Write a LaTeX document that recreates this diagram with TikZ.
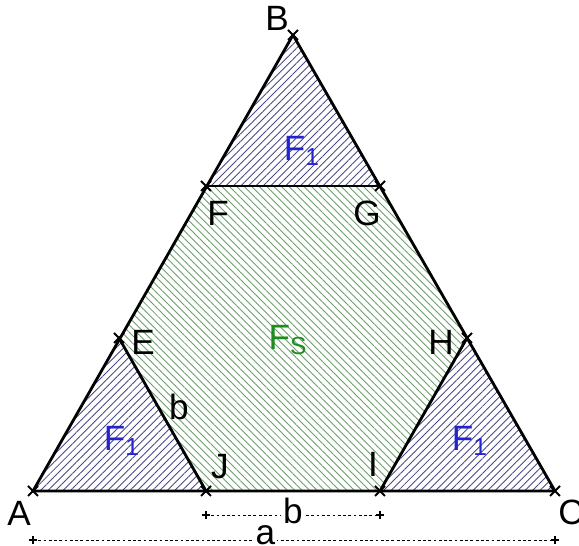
\documentclass[tikz,border=0pt]{standalone}
\usepackage{fontspec}
\setmainfont{Liberation Sans}
\usetikzlibrary{patterns.meta}
\definecolor{hatchblue}{HTML}{4A4A86}
\definecolor{hatchgreen}{HTML}{6A9E6A}
\definecolor{labelblue}{HTML}{2323D2}
\definecolor{labelgreen}{HTML}{1E8C1E}
\tikzset{
  edge/.style={line width=1.6pt, line join=round},
  cornerarea/.style={pattern={Lines[angle=45,distance=3pt,line width=0.5pt]}, pattern color=hatchblue},
  hexarea/.style={pattern={Lines[angle=-45,distance=3pt,line width=0.5pt]}, pattern color=hatchgreen},
  ptlabel/.style={font=\fontsize{20}{22}\selectfont, inner sep=0pt},
  arealabel/.style={font=\fontsize{20}{22}\selectfont, inner sep=0pt},
  dimline/.style={dash pattern=on 1.6pt off 1.4pt, line width=0.5pt},
  dimlabel/.style={font=\fontsize{20}{22}\selectfont, fill=white, inner sep=1pt}
}
\newcommand{\ptcross}[1]{\draw[line width=1.1pt] (#1) +(-5,-5) -- +(5,5) +(-5,5) -- +(5,-5);}
\newcommand{\dimtick}[1]{\draw[line width=1.1pt] (#1) +(-4,0) -- +(4,0) +(0,-4) -- +(0,4);}

\begin{document}
\begin{tikzpicture}[x=0.02cm, y=-0.02cm]
  \useasboundingbox (0,0) rectangle (579,546);
  % corner points
  \coordinate (A) at (33,491);
  \coordinate (B) at (293,35);
  \coordinate (C) at (555,491);
  \coordinate (F) at (206,186);
  \coordinate (G) at (380,186);
  \coordinate (E) at (119,338);
  \coordinate (H) at (467,338);
  \coordinate (J) at (206,491);
  \coordinate (I) at (380,491);
  % dimension ends
  \coordinate (bl) at (206,515);
  \coordinate (br) at (380,515);
  \coordinate (al) at (33,540);
  \coordinate (ar) at (555,540);

  % hatched areas
  \fill[hexarea] (E) -- (F) -- (G) -- (H) -- (I) -- (J) -- cycle;
  \fill[cornerarea] (B) -- (F) -- (G) -- cycle;
  \fill[cornerarea] (A) -- (E) -- (J) -- cycle;
  \fill[cornerarea] (I) -- (H) -- (C) -- cycle;

  % edges
  \draw[edge] (A) -- (B) -- (C) -- cycle;
  \draw[edge] (F) -- (G);
  \draw[edge] (E) -- (J);
  \draw[edge] (H) -- (I);

  \foreach \p in {A,B,C,E,F,G,H,I,J}{
    \ptcross{\p}
  }

  % dimensions
  \draw[dimline] (bl) -- (br) node[dimlabel, midway, yshift=2.5pt] (blab) {b};
  \draw[dimline] (al) -- (ar) node[dimlabel, pos=0.445, yshift=2.5pt] (alab) {a};
  \foreach \p in {bl,br,al,ar}{
    \dimtick{\p}
  }

  % point labels
  \node[ptlabel] (lA) at (19,513) {A};
  \node[ptlabel] (lB) at (277,18) {B};
  \node[ptlabel] (lC) at (571,512) {C};
  \node[ptlabel] (lF) at (218,213) {F};
  \node[ptlabel] (lG) at (367,213) {G};
  \node[ptlabel] (lE) at (143,342) {E};
  \node[ptlabel] (lH) at (441,342) {H};
  \node[ptlabel] (lJ) at (220,467) {J};
  \node[ptlabel] (lI) at (373,464) {I};
  \node[ptlabel] (lb) at (179,407) {b};

  % area labels
  \node[arealabel, text=labelblue] (f1top) at (302,151) {F\textsubscript{1}};
  \node[arealabel, text=labelblue] (f1left) at (122,441) {F\textsubscript{1}};
  \node[arealabel, text=labelblue] (f1right) at (470,441) {F\textsubscript{1}};
  \node[arealabel, text=labelgreen] (fs) at (288,340) {F\textsubscript{S}};
\end{tikzpicture}
\end{document}
